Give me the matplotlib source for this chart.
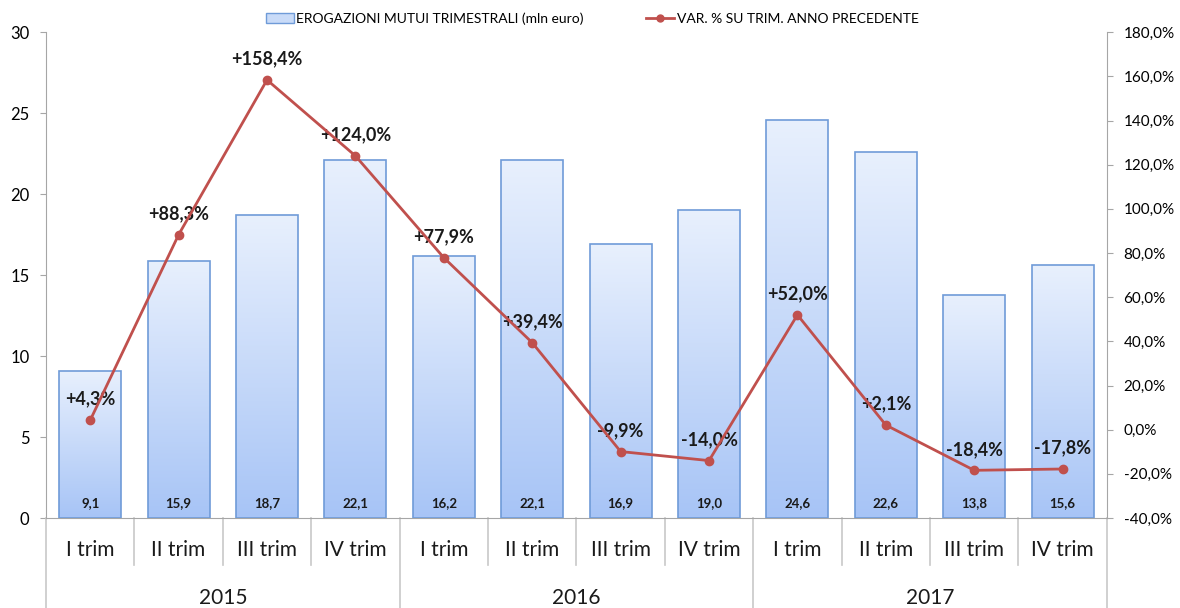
import matplotlib.pyplot as plt
import numpy as np
from matplotlib.colors import LinearSegmentedColormap
from matplotlib.lines import Line2D
from matplotlib.patches import Patch
from matplotlib.ticker import FuncFormatter

plt.rcParams['font.family'] = ['Lato', 'DejaVu Sans']

quarters = ["I trim", "II trim", "III trim", "IV trim"] * 3
years = ["2015", "2016", "2017"]
erogazioni = [9.1, 15.9, 18.7, 22.1, 16.2, 22.1, 16.9, 19.0, 24.6, 22.6, 13.8, 15.6]
var_pct = [4.3, 88.3, 158.4, 124.0, 77.9, 39.4, -9.9, -14.0, 52.0, 2.1, -18.4, -17.8]

bar_edge = '#6f9bd8'
line_col = '#c0504d'
grey = '#a6a6a6'

fig = plt.figure(figsize=(11.8, 6.08), dpi=100)
ax = fig.add_axes([0.039, 0.148, 0.899, 0.799])
ax2 = ax.twinx()

x = np.arange(len(erogazioni))
bars = ax.bar(x, erogazioni, width=0.7, facecolor='none', edgecolor=bar_edge, linewidth=1.2, zorder=3)

# gradient fill, light at top, deeper blue at bottom
cmap = LinearSegmentedColormap.from_list('grad', ['#a7c4f6', '#e8f0fd'])
grad = np.linspace(0, 1, 256).reshape(-1, 1)
for b in bars:
    x0 = b.get_x()
    w = b.get_width()
    h = b.get_height()
    im = ax.imshow(grad, extent=[x0, x0 + w, 0, h], origin='lower', aspect='auto',
                   cmap=cmap, zorder=2)
    im.set_clip_path(b)

for xi, v in zip(x, erogazioni):
    ax.text(xi, 0.55, f"{v:.1f}".replace('.', ','), ha='center', va='bottom',
            fontsize=9.5, fontweight='bold', color='#1a1a1a', zorder=4)

ax.set_xlim(-0.5, len(x) - 0.5)
ax.set_ylim(0, 30)
ax.set_yticks(np.arange(0, 31, 5))
ax.tick_params(axis='y', labelsize=12, length=4, color=grey, pad=8)
ax.set_xticks([])

ax2.plot(x, var_pct, color=line_col, linewidth=2, marker='o', markersize=6, zorder=5)
ax2.set_ylim(-40, 180)
ax2.set_yticks(np.arange(-40, 181, 20))
ax2.yaxis.set_major_formatter(FuncFormatter(lambda v, p: f"{v:.1f}%".replace('.', ',')))
ax2.tick_params(axis='y', labelsize=11, length=4, color=grey, pad=8)
for xi, v in zip(x, var_pct):
    s = f"{v:+.1f}%".replace('.', ',')
    ax2.annotate(s, (xi, v), xytext=(0, 9), textcoords='offset points', ha='center',
                 va='bottom', fontsize=13, fontweight='bold', color='#1a1a1a')

for a in (ax, ax2):
    a.spines['top'].set_visible(False)
    for side in ('left', 'right', 'bottom'):
        a.spines[side].set_color(grey)
ax2.spines['bottom'].set_visible(False)
ax2.spines['left'].set_visible(False)
ax.spines['right'].set_visible(False)

# two-level category axis
trans = ax.get_xaxis_transform()
for xi, q in zip(x, quarters):
    ax.text(xi, -0.065, q, transform=trans, ha='center', va='center', fontsize=15, color='#1a1a1a')
for k in range(len(x) + 1):
    xs = k - 0.5
    if k % 4 == 0:
        ax.add_line(Line2D([xs, xs], [0, -0.2], transform=trans, color='#c8c8c8', lw=1.2, clip_on=False))
    else:
        ax.add_line(Line2D([xs, xs], [0, -0.097], transform=trans, color='#c8c8c8', lw=1.2, clip_on=False))
for i, yr in enumerate(years):
    ax.text(4 * i + 1.5, -0.165, yr, transform=trans, ha='center', va='center', fontsize=15, color='#1a1a1a')

handles = [Patch(facecolor='#c9dbf8', edgecolor=bar_edge, label='EROGAZIONI MUTUI TRIMESTRALI (mln euro)'),
           Line2D([0], [0], color=line_col, lw=2, marker='o', markersize=5, label='VAR. % SU TRIM. ANNO PRECEDENTE')]
fig.legend(handles=handles, loc='center', bbox_to_anchor=(0.502, 0.97), ncol=2, frameon=False,
           fontsize=10, columnspacing=4.5, handlelength=2.0, handletextpad=0.2)

fig.savefig('out.png', dpi=100)
